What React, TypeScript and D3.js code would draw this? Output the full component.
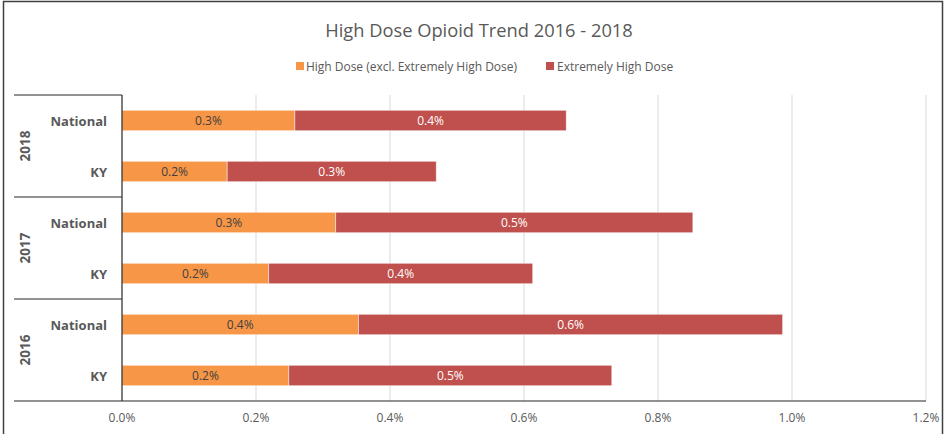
import React from "react";
import * as d3 from "d3";

const years = ["2018", "2017", "2016"];
const regions = ["National", "KY"];
// values in percent
const highDose = [0.258, 0.157, 0.319, 0.219, 0.353, 0.249];
const extremelyHigh = [0.405, 0.312, 0.533, 0.394, 0.633, 0.482];
const xTicks = [0, 0.2, 0.4, 0.6, 0.8, 1.0, 1.2];
const seriesNames = ["High Dose (excl. Extremely High Dose)", "Extremely High Dose"];
const colors = ["#F79646", "#C0504D"];
const labelColors = ["#404040", "#FFFFFF"];

const W = 947;
const H = 434;
const FONT = "'Open Sans', 'Liberation Sans', sans-serif";

export default function App() {
  const left = 122, right = 926, top = 95, bottom = 401;
  const x = d3.scaleLinear().domain([0, 1.2]).range([left, right]);
  const rows = years.flatMap((y) => regions.map((r) => `${y}|${r}`));
  const yb = d3.scaleBand().domain(rows).range([top, bottom]).paddingInner(0.6).paddingOuter(0.3);
  const band = (bottom - top) / rows.length;
  const series = [highDose, extremelyHigh];
  const stackIn = rows.map((k, i) => ({ key: k, s0: highDose[i], s1: extremelyHigh[i] }));
  const stacked = d3.stack<any>().keys(["s0", "s1"])(stackIn);
  const grey = "#595959";

  return (
    <svg width={W} height={H} style={{ position: "absolute", left: 0, top: 0, background: "#fff" }} fontFamily={FONT}>
      <rect x={3.5} y={1.5} width={939} height={440} fill="#fff" stroke="#404040" strokeWidth={1.5} />
      <text x={479} y={37} textAnchor="middle" fontSize={18.3} fill={grey}>High Dose Opioid Trend 2016 - 2018</text>
      {/* legend */}
      <g fontSize={12} fill={grey}>
        <rect x={296} y={62} width={8} height={8} fill={colors[0]} />
        <text x={306} y={70.5} textLength={211}>{seriesNames[0]}</text>
        <rect x={546} y={62} width={8} height={8} fill={colors[1]} />
        <text x={557} y={70.5}>{seriesNames[1]}</text>
      </g>
      {/* gridlines */}
      {xTicks.slice(1).map((t) => (
        <line key={t} x1={x(t)} x2={x(t)} y1={top} y2={bottom} stroke="#D9D9D9" strokeWidth={1} />
      ))}
      {/* bars */}
      {stacked.map((layer, si) =>
        layer.map((d, i) => {
          const x0 = x(d[0]);
          const x1 = x(d[1]);
          const yy = yb(rows[i])!;
          return (
            <g key={`${si}-${i}`}>
              <rect x={x0} y={yy} width={x1 - x0} height={yb.bandwidth()} fill={colors[si]} stroke="#fff" strokeOpacity={0.6} strokeWidth={0.75} />
              <text x={(x0 + x1) / 2} y={yy + yb.bandwidth() / 2 + 4.5} textAnchor="middle" fontSize={12} fill={labelColors[si]}>
                {series[si][i].toFixed(1)}%
              </text>
            </g>
          );
        })
      )}
      {/* axes */}
      <line x1={left} x2={left} y1={top} y2={bottom} stroke="#262626" strokeWidth={1.2} />
      <line x1={14} x2={right} y1={bottom} y2={bottom} stroke="#262626" strokeWidth={1.2} />
      {years.map((yr, gi) => (
        <line key={yr} x1={14} x2={left} y1={top + gi * band * 2} y2={top + gi * band * 2} stroke="#262626" strokeWidth={1.2} />
      ))}
      {/* category labels */}
      {rows.map((k, i) => (
        <text key={k} x={107} y={top + band * (i + 0.5) + 5} textAnchor="end" fontSize={13} fontWeight="bold" fill={grey}>
          {regions[i % 2]}
        </text>
      ))}
      {years.map((yr, gi) => {
        const cy = top + band * (gi * 2 + 1);
        return (
          <text key={yr} transform={`translate(30,${cy}) rotate(-90)`} textAnchor="middle" fontSize={13.5} fontWeight="bold" fill={grey}>
            {yr}
          </text>
        );
      })}
      {/* tick labels */}
      {xTicks.map((t) => (
        <text key={t} x={x(t)} y={422} textAnchor="middle" fontSize={12} fill={grey}>
          {t.toFixed(1)}%
        </text>
      ))}
    </svg>
  );
}
